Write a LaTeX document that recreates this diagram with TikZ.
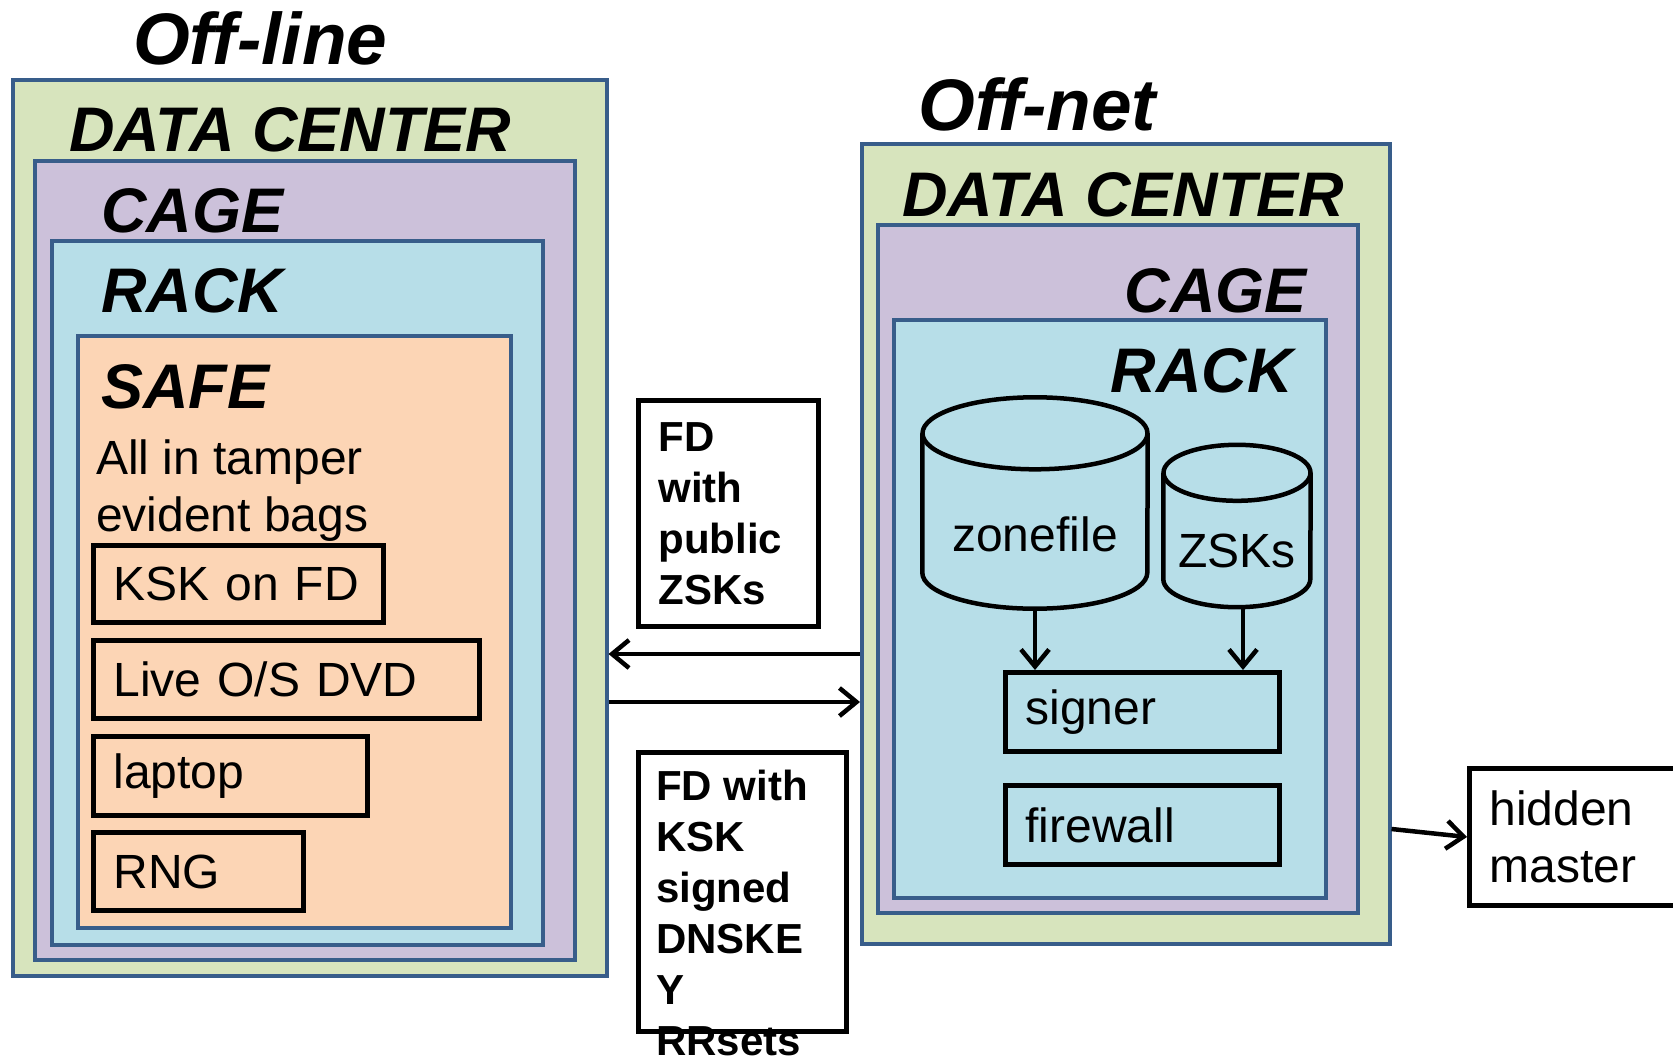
\documentclass[tikz,border=0pt]{standalone}
\usepackage{fontspec}
\setmainfont{Liberation Sans}
\usetikzlibrary{arrows.meta}
\definecolor{dcgreen}{HTML}{D7E4BD}
\definecolor{cagepurple}{HTML}{CCC1DA}
\definecolor{rackblue}{HTML}{B7DEE8}
\definecolor{safeorange}{HTML}{FCD5B5}
\definecolor{edgeblue}{HTML}{385D8A}
\begin{document}
\begin{tikzpicture}[x=1pt,y=-1pt]
    \tikzstyle{line} = [-{Straight Barb[length=17pt,width=28pt]},
        line width=4.5pt]
    \tikzstyle{zone} = [rectangle, draw=edgeblue, line width=3.5pt,
        anchor=north west, inner sep=0pt]
    \tikzstyle{title} = [anchor=base west, inner sep=0pt,
        font=\fontsize{63}{75}\selectfont\bfseries\itshape]
    \tikzstyle{where} = [anchor=base west, inner sep=0pt,
        font=\fontsize{73}{88}\selectfont\bfseries\itshape]
    \tikzstyle{rec} = [rectangle, draw=black, line width=5pt,
        anchor=north west, align=left, inner xsep=20pt,
        font=\fontsize{48}{57}\selectfont]
    \tikzstyle{fd} = [rec, font=\fontsize{42}{51}\selectfont\bfseries]
    \tikzstyle{store} = [rectangle, inner sep=0pt, text depth=0pt,
        font=\fontsize{48}{57}\selectfont]
    \tikzstyle{can} = [draw=black, line width=4.5pt]

    \useasboundingbox (0,0) rectangle (1673,1060);

    % off-line side
    \node(dcoff) [zone, fill=dcgreen, minimum width=594, minimum height=896]
        at (11,78) {};
    \node(cageoff) [zone, fill=cagepurple, minimum width=540,
        minimum height=799] at (33,159) {};
    \node(rackoff) [zone, fill=rackblue, minimum width=491,
        minimum height=704] at (50,239) {};
    \node(safe) [zone, fill=safeorange, minimum width=433,
        minimum height=592] at (76,334) {};
    \node(offline) [where] at (133,64) {Off-line};
    \node(dcofflabel) [title] at (69,151) {DATA CENTER};
    \node(cageofflabel) [title] at (101,232) {CAGE};
    \node(rackofflabel) [title] at (101,312) {RACK};
    \node(safelabel) [title] at (101,408) {SAFE};
    \node(bags) [anchor=base west, inner sep=0pt, align=left,
        font=\fontsize{48}{57}\selectfont] at (96,531)
        {All in tamper\\evident bags};
    \node(ksk) [rec, text width=250, minimum height=77] at (91,543)
        {KSK on FD};
    \node(liveos) [rec, text width=346, minimum height=78] at (91,638)
        {Live O/S DVD};
    \node(laptop) [rec, text width=234, minimum height=79] at (91,734)
        {laptop};
    \node(rng) [rec, text width=170, minimum height=78] at (91,830)
        {RNG};

    % off-net side
    \node(dcnet) [zone, fill=dcgreen, minimum width=528, minimum height=800]
        at (860,142) {};
    \node(cagenet) [zone, fill=cagepurple, minimum width=480,
        minimum height=688] at (876,223) {};
    \node(racknet) [zone, fill=rackblue, minimum width=432,
        minimum height=578] at (892,318) {};
    \node(offnet) [where] at (918,130) {Off-net};
    \node(dcnetlabel) [title] at (902,216) {DATA CENTER};
    \node(cagenetlabel) [title, anchor=base east] at (1307,312) {CAGE};
    \node(racknetlabel) [title, anchor=base east] at (1293,392) {RACK};

    \node(zonefile) [store, minimum width=225, minimum height=211,
        text height=97pt] at (1035,503) {zonefile};
    \draw[can] ([yshift=-36pt]zonefile.north west)
        -- ([yshift=36pt]zonefile.south west)
        arc[start angle=180, end angle=360, x radius=112.5pt, y radius=36pt]
        -- ([yshift=-36pt]zonefile.north east);
    \draw[can] ([yshift=-36pt]zonefile.north)
        ellipse [x radius=112.5pt, y radius=36pt];

    \node(zsks) [store, minimum width=147, minimum height=162,
        text height=82pt] at (1237,526) {ZSKs};
    \draw[can] ([yshift=-28pt]zsks.north west)
        -- ([yshift=28pt]zsks.south west)
        arc[start angle=180, end angle=360, x radius=73.5pt, y radius=28pt]
        -- ([yshift=-28pt]zsks.north east);
    \draw[can] ([yshift=-28pt]zsks.north)
        ellipse [x radius=73.5pt, y radius=28pt];

    \node(signer) [rec, text width=234, minimum height=79] at (1003,670)
        {signer};
    \node(firewall) [rec, text width=234, minimum height=79] at (1003,783)
        {firewall};

    \node(hidden) [rec, text width=200, minimum height=137] at (1467,766)
        {hidden\\master};

    % flash drives carried between
    \node(fdzsk) [fd, text width=140, minimum height=226] at (636,398)
        {FD\\with\\public\\ZSKs};
    \node(fdksk) [rec, minimum width=208, minimum height=279] at (636,750) {};
    \node(fdksktext) [anchor=north west, inner sep=0pt, align=left,
        font=\fontsize{42}{51}\selectfont\bfseries] at (656,770)
        {FD with\\KSK\\signed\\DNSKE\\Y\\RRsets};

    \draw[line] (zonefile.south) -- (zonefile.south |- signer.north);
    \draw[line] ([xshift=6pt]zsks.south) -- ([xshift=6pt]zsks.south |- signer.north);
    \draw[line] (dcnet.west |- 0,654) -- (dcoff.east |- 0,654);
    \draw[line] (dcoff.east |- 0,702) -- (dcnet.west |- 0,702);
    \draw[line] (dcnet.east |- 0,829) -- (hidden.west);
\end{tikzpicture}
\end{document}
